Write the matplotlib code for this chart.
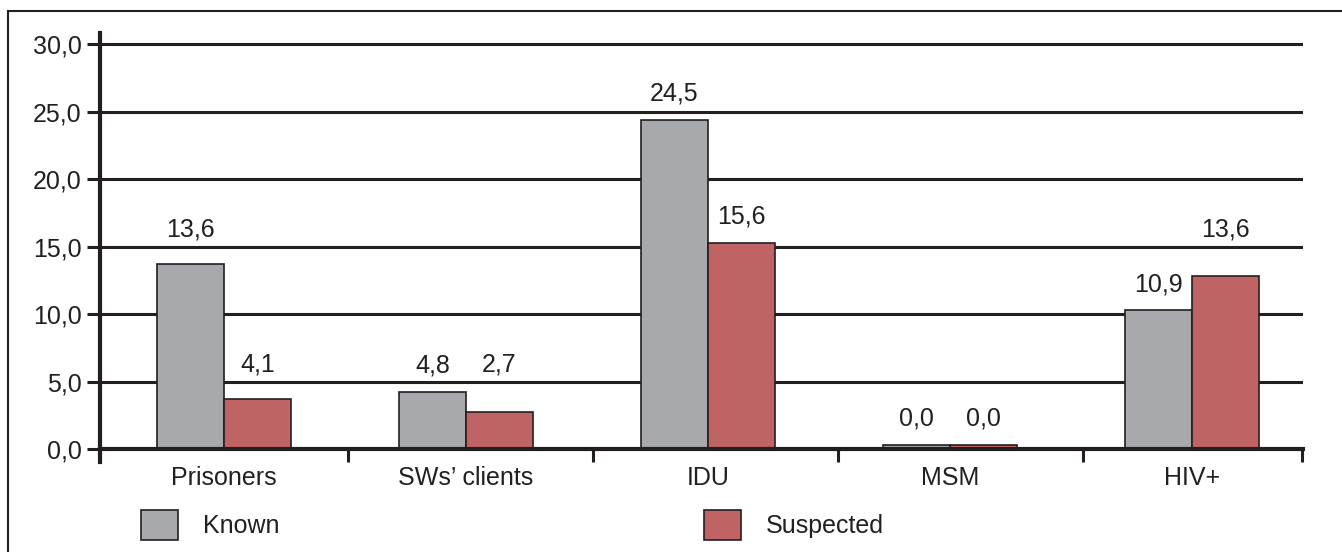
import numpy as np
import matplotlib
matplotlib.use("Agg")
import matplotlib.pyplot as plt
from matplotlib.patches import Rectangle, Patch

plt.rcParams['font.family'] = ['Liberation Sans', 'DejaVu Sans']

# data
groups = ["Prisoners", "SWs\u2019 clients", "IDU", "MSM", "HIV+"]
known = [13.7, 4.26, 24.4, 0.33, 10.3]          # drawn bar heights
suspected = [3.74, 2.78, 15.3, 0.33, 12.85]
known_lbl = ["13,6", "4,8", "24,5", "0,0", "10,9"]   # printed labels
suspected_lbl = ["4,1", "2,7", "15,6", "0,0", "13,6"]
yticks = [0, 5, 10, 15, 20, 25, 30]

ink = "#231f20"
grey = "#a8a9ad"
red = "#c06365"
fs = 18

fig = plt.figure(figsize=(13.42, 5.52), dpi=100)
W, H = 1342, 552
ax = fig.add_axes([100/W, 1-462/H, 1203/W, 429/H])

x = np.arange(len(groups))
w = 0.277
b1 = ax.bar(x - w/2, known, width=w, color=grey, edgecolor=ink, linewidth=1.2, zorder=3)
b2 = ax.bar(x + w/2, suspected, width=w, color=red, edgecolor=ink, linewidth=1.2, zorder=3)

# value labels: a bit above the bar, pushed above a grid line if they'd sit on it
for bars, labs in [(b1, known_lbl), (b2, suspected_lbl)]:
    for r, t in zip(bars, labs):
        yc = r.get_height() + 1.93
        for v in yticks[1:]:
            if abs(yc - v) < 0.75:
                yc = v + 1.3
        ax.text(r.get_x() + r.get_width()/2, yc, t, ha='center', va='center',
                fontsize=fs, color=ink)

ax.set_xlim(-0.512, 4.459)
ax.set_ylim(-0.95, 30.85)

# grid lines
for v in yticks[1:]:
    ax.axhline(v, color=ink, lw=2.2, zorder=1)

for s in ['top', 'right']:
    ax.spines[s].set_visible(False)
ax.spines['bottom'].set_position(('data', 0))
ax.spines['bottom'].set_zorder(4)
for s in ['left', 'bottom']:
    ax.spines[s].set_linewidth(3)
    ax.spines[s].set_color(ink)

ax.set_yticks(yticks)
ax.set_yticklabels([("%.1f" % v).replace('.', ',') for v in yticks])
ax.tick_params(axis='y', length=9.4, width=2.2, color=ink, pad=4, labelsize=fs, labelcolor=ink)

ax.set_xticks([-0.512, 0.512, 1.525, 2.537, 3.55, 4.455])
ax.set_xticklabels([])
ax.set_xticks(x, minor=True)
ax.set_xticklabels(groups, minor=True)
ax.tick_params(axis='x', which='major', length=9.4, width=2.2, color=ink, direction='out')
ax.tick_params(axis='x', which='minor', length=0, pad=12, labelsize=fs, labelcolor=ink)

# legend, two separate entries
h = 37 / (fs*100/72)
kw = dict(frameon=False, fontsize=fs, handlelength=h, handleheight=h, handletextpad=1.0,
          borderpad=0, borderaxespad=0, loc='center left', bbox_transform=fig.transFigure,
          labelcolor=ink)
fig.legend(handles=[Patch(facecolor=grey, edgecolor=ink, linewidth=1.2)], labels=["Known"],
           bbox_to_anchor=(141/W, 1-525/H), **kw)
fig.legend(handles=[Patch(facecolor=red, edgecolor=ink, linewidth=1.2)], labels=["Suspected"],
           bbox_to_anchor=(704/W, 1-525/H), **kw)

# frame around the figure (cut at right and bottom)
fig.add_artist(Rectangle((7.5/W, -0.5), 2, 1-11/H+0.5, transform=fig.transFigure,
                         fill=False, edgecolor=ink, linewidth=1.5))

fig.savefig("out.png", dpi=100)
